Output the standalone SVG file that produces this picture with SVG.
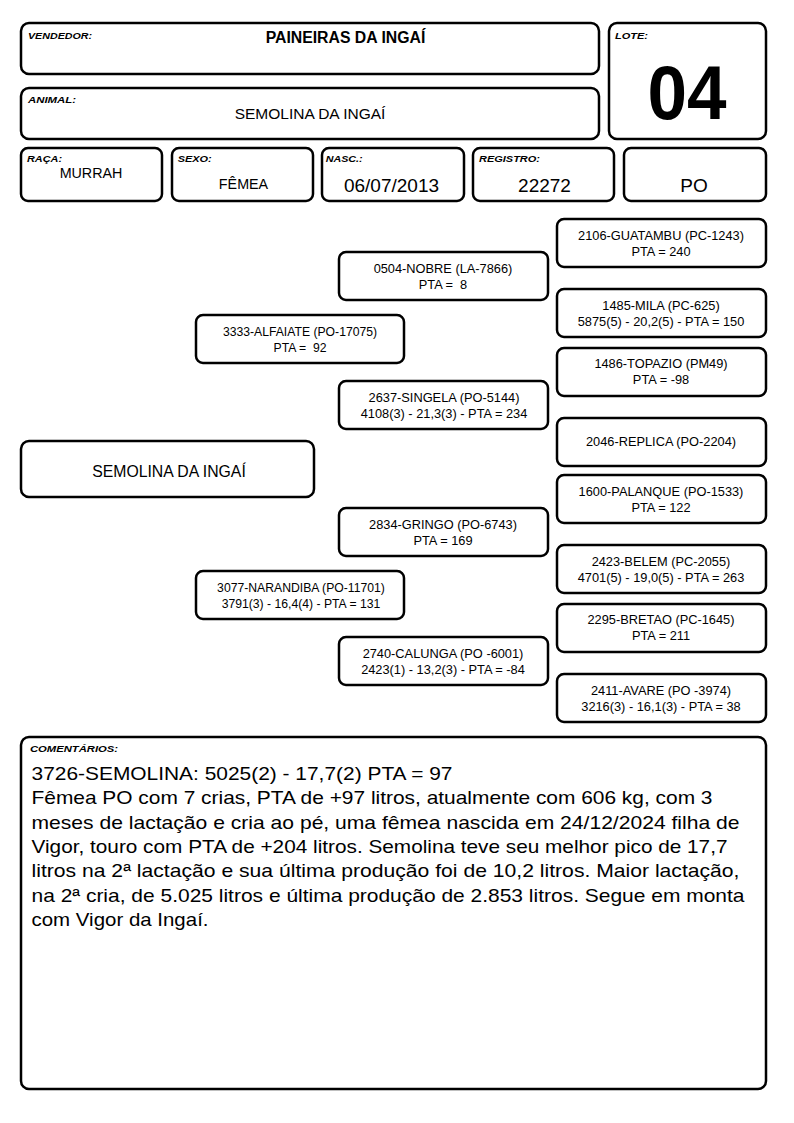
<svg xmlns="http://www.w3.org/2000/svg" width="794" height="1123" viewBox="0 0 794 1123">
<defs>
<style>
.box{fill:#fff;stroke:#000;stroke-width:2.5}
.lbl{font-family:"Liberation Sans",Arial,sans-serif;font-size:9.5px;font-weight:bold;font-style:italic;fill:#000}
.val{font-family:"Liberation Sans",Arial,sans-serif;fill:#000;text-anchor:middle}
.ped{font-family:"Liberation Sans",Arial,sans-serif;font-size:12.8px;fill:#000;text-anchor:middle}
.pedl{font-family:"Liberation Sans",Arial,sans-serif;font-size:12.2px;fill:#000;text-anchor:middle}
.com{font-family:"Liberation Sans",Arial,sans-serif;font-size:19px;fill:#000}
</style>
</defs>
<rect width="794" height="1123" fill="#fff"/>
<g id="vendedor">
<rect class="box" x="21" y="23" width="578" height="51" rx="8"/>
<text class="lbl" x="28" y="38.5" textLength="64" lengthAdjust="spacingAndGlyphs">VENDEDOR:</text>
<text class="val" x="345.5" y="43.3" font-size="15.8" font-weight="bold">PAINEIRAS DA INGAÍ</text>
</g>
<g id="animal">
<rect class="box" x="21" y="88" width="578" height="51" rx="8"/>
<text class="lbl" x="28" y="103" textLength="48" lengthAdjust="spacingAndGlyphs">ANIMAL:</text>
<text class="val" x="310" y="119" font-size="15.5">SEMOLINA DA INGAÍ</text>
</g>
<g id="lote">
<rect class="box" x="609" y="23" width="157" height="116" rx="8"/>
<text class="lbl" x="615" y="38.5" textLength="33" lengthAdjust="spacingAndGlyphs">LOTE:</text>
<text class="val" x="687" y="119" font-size="76" font-weight="bold" textLength="79" lengthAdjust="spacingAndGlyphs">04</text>
</g>
<g id="raca">
<rect class="box" x="21" y="148" width="141" height="53" rx="7"/>
<text class="lbl" x="27" y="162" textLength="35" lengthAdjust="spacingAndGlyphs">RAÇA:</text>
<text class="val" x="91" y="178" font-size="14.3">MURRAH</text>
</g>
<g id="sexo">
<rect class="box" x="172" y="148" width="141" height="53" rx="7"/>
<text class="lbl" x="177.7" y="162" textLength="34" lengthAdjust="spacingAndGlyphs">SEXO:</text>
<text class="val" x="243.5" y="189" font-size="14.3">FÊMEA</text>
</g>
<g id="nasc">
<rect class="box" x="322" y="148" width="142" height="53" rx="7"/>
<text class="lbl" x="325.7" y="162" textLength="37" lengthAdjust="spacingAndGlyphs">NASC.:</text>
<text class="val" x="391.5" y="192" font-size="19">06/07/2013</text>
</g>
<g id="registro">
<rect class="box" x="473" y="148" width="141" height="53" rx="7"/>
<text class="lbl" x="479" y="162" textLength="61" lengthAdjust="spacingAndGlyphs">REGISTRO:</text>
<text class="val" x="544.5" y="192" font-size="19">22272</text>
</g>
<g id="categoria">
<rect class="box" x="624" y="148" width="142" height="53" rx="7"/>
<text class="val" x="694" y="192" font-size="19">PO</text>
</g>
<g id="connectors"></g>
<g id="semolina">
<rect class="box" x="21" y="441" width="293" height="56" rx="8"/>
<text class="val" x="169" y="476.5" font-size="15.8">SEMOLINA DA INGAÍ</text>
</g>
<g id="alfaiate">
<rect class="box" x="196" y="315" width="208" height="48" rx="7"/>
<text class="pedl" x="300" y="336">3333-ALFAIATE (PO-17075)</text>
<text class="pedl" x="300" y="352">PTA =&#160; 92</text>
</g>
<g id="narandiba">
<rect class="box" x="196" y="571" width="208" height="48" rx="7"/>
<text class="pedl" x="301" y="592">3077-NARANDIBA (PO-11701)</text>
<text class="pedl" x="301" y="608">3791(3) - 16,4(4) - PTA = 131</text>
</g>
<g id="nobre">
<rect class="box" x="339" y="252" width="209" height="48" rx="7"/>
<text class="ped" x="443" y="273">0504-NOBRE (LA-7866)</text>
<text class="ped" x="443" y="289">PTA =&#160; 8</text>
</g>
<g id="singela">
<rect class="box" x="339" y="381" width="209" height="48" rx="7"/>
<text class="ped" x="444" y="402">2637-SINGELA (PO-5144)</text>
<text class="ped" x="444" y="418">4108(3) - 21,3(3) - PTA = 234</text>
</g>
<g id="gringo">
<rect class="box" x="339" y="508" width="209" height="48" rx="7"/>
<text class="ped" x="443" y="529">2834-GRINGO (PO-6743)</text>
<text class="ped" x="443" y="545">PTA = 169</text>
</g>
<g id="calunga">
<rect class="box" x="339" y="637" width="209" height="48" rx="7"/>
<text class="ped" x="443" y="658">2740-CALUNGA (PO -6001)</text>
<text class="ped" x="443" y="674">2423(1) - 13,2(3) - PTA = -84</text>
</g>
<g id="guatambu">
<rect class="box" x="557" y="219" width="209" height="48" rx="7"/>
<text class="ped" x="661" y="240">2106-GUATAMBU (PC-1243)</text>
<text class="ped" x="661" y="256">PTA = 240</text>
</g>
<g id="mila">
<rect class="box" x="557" y="289" width="209" height="48" rx="7"/>
<text class="ped" x="661" y="310">1485-MILA (PC-625)</text>
<text class="ped" x="661" y="326">5875(5) - 20,2(5) - PTA = 150</text>
</g>
<g id="topazio">
<rect class="box" x="557" y="348" width="209" height="48" rx="7"/>
<text class="ped" x="661" y="368">1486-TOPAZIO (PM49)</text>
<text class="ped" x="661" y="384">PTA = -98</text>
</g>
<g id="replica">
<rect class="box" x="557" y="418" width="209" height="48" rx="7"/>
<text class="ped" x="661" y="446">2046-REPLICA (PO-2204)</text>
</g>
<g id="palanque">
<rect class="box" x="557" y="475" width="209" height="48" rx="7"/>
<text class="ped" x="661" y="496">1600-PALANQUE (PO-1533)</text>
<text class="ped" x="661" y="512">PTA = 122</text>
</g>
<g id="belem">
<rect class="box" x="557" y="545" width="209" height="48" rx="7"/>
<text class="ped" x="661" y="566">2423-BELEM (PC-2055)</text>
<text class="ped" x="661" y="582">4701(5) - 19,0(5) - PTA = 263</text>
</g>
<g id="bretao">
<rect class="box" x="557" y="604" width="209" height="48" rx="7"/>
<text class="ped" x="661" y="624">2295-BRETAO (PC-1645)</text>
<text class="ped" x="661" y="640">PTA = 211</text>
</g>
<g id="avare">
<rect class="box" x="557" y="674" width="209" height="48" rx="7"/>
<text class="ped" x="661" y="695">2411-AVARE (PO -3974)</text>
<text class="ped" x="661" y="711">3216(3) - 16,1(3) - PTA = 38</text>
</g>
<g id="comentarios">
<rect class="box" x="21" y="737" width="745" height="352" rx="8"/>
<text class="lbl" x="30" y="752" textLength="88" lengthAdjust="spacingAndGlyphs">COMENTÁRIOS:</text>
<text class="com" x="31.5" y="780" textLength="421" lengthAdjust="spacingAndGlyphs">3726-SEMOLINA: 5025(2) - 17,7(2) PTA = 97</text>
<text class="com" x="31.5" y="804.3" textLength="681" lengthAdjust="spacingAndGlyphs">Fêmea PO com 7 crias, PTA de +97 litros, atualmente com 606 kg, com 3</text>
<text class="com" x="31.5" y="828.6" textLength="708" lengthAdjust="spacingAndGlyphs">meses de lactação e cria ao pé, uma fêmea nascida em 24/12/2024 filha de</text>
<text class="com" x="31.5" y="852.9" textLength="696" lengthAdjust="spacingAndGlyphs">Vigor, touro com PTA de +204 litros. Semolina teve seu melhor pico de 17,7</text>
<text class="com" x="31.5" y="877.2" textLength="708" lengthAdjust="spacingAndGlyphs">litros na 2ª lactação e sua última produção foi de 10,2 litros. Maior lactação,</text>
<text class="com" x="31.5" y="901.5" textLength="713" lengthAdjust="spacingAndGlyphs">na 2ª cria, de 5.025 litros e última produção de 2.853 litros. Segue em monta</text>
<text class="com" x="31.5" y="925.8" textLength="177" lengthAdjust="spacingAndGlyphs">com Vigor da Ingaí.</text>
</g>
</svg>
